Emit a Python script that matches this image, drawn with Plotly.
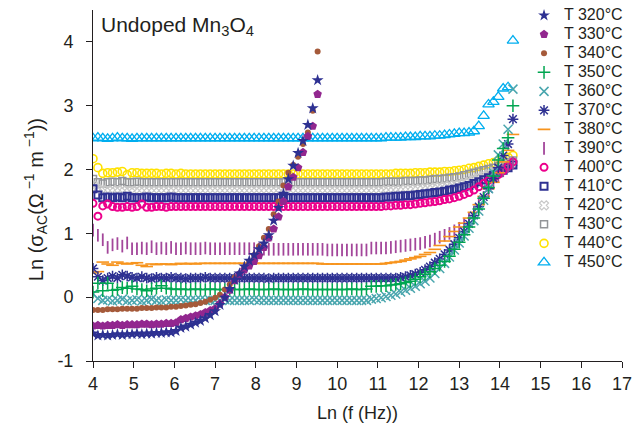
import plotly.graph_objects as go

# ln(f) sampling grid
ln_f = [4.00, 4.12, 4.24, 4.36, 4.48, 4.60, 4.72, 4.84, 4.96, 5.08,
        5.20, 5.32, 5.44, 5.56, 5.68, 5.80, 5.92, 6.04, 6.16, 6.28,
        6.40, 6.52, 6.64, 6.76, 6.88, 7.00, 7.12, 7.24, 7.36, 7.48,
        7.60, 7.72, 7.84, 7.96, 8.08, 8.20, 8.32, 8.44, 8.56, 8.68,
        8.80, 8.92, 9.04, 9.16, 9.28, 9.40, 9.52, 9.64, 9.76, 9.88,
        10.00, 10.12, 10.24, 10.36, 10.48, 10.60, 10.72, 10.84, 10.96, 11.08,
        11.20, 11.32, 11.44, 11.56, 11.68, 11.80, 11.92, 12.04, 12.16, 12.28,
        12.40, 12.52, 12.64, 12.76, 12.88, 13.00, 13.12, 13.24, 13.36, 13.48,
        13.60, 13.72, 13.84, 13.96, 14.08, 14.20, 14.32]

s320 = [-0.57, -0.60, -0.59, -0.60, -0.59, -0.58, -0.59, -0.58, -0.58, -0.57,
        -0.58, -0.57, -0.57, -0.56, -0.56, -0.55, -0.55, -0.53, -0.48, -0.46,
        -0.43, -0.40, -0.37, -0.33, -0.28, -0.22, -0.12, -0.01, 0.13, 0.27,
        0.37, 0.48, 0.57, 0.66, 0.75, 0.84, 0.97, 1.20, 1.40, 1.62,
        1.85, 2.06, 2.26, 2.45, 2.70, 2.96, 3.40]

s330 = [-0.45, -0.44, -0.45, -0.44, -0.44, -0.43, -0.44, -0.43, -0.43, -0.43,
        -0.42, -0.42, -0.43, -0.42, -0.42, -0.41, -0.41, -0.40, -0.35, -0.33,
        -0.31, -0.29, -0.27, -0.24, -0.21, -0.18, -0.10, 0.00, 0.11, 0.26,
        0.36, 0.43, 0.49, 0.56, 0.65, 0.78, 0.93, 1.07, 1.26, 1.50,
        1.73, 1.88, 2.03, 2.27, 2.52, 2.68, 3.18]

s340 = [-0.20, -0.20, -0.20, -0.19, -0.19, -0.19, -0.18, -0.18, -0.18, -0.18,
        -0.17, -0.17, -0.17, -0.16, -0.16, -0.16, -0.15, -0.15, -0.14, -0.13,
        -0.12, -0.11, -0.09, -0.07, -0.04, -0.01, 0.04, 0.12, 0.20, 0.31,
        0.37, 0.47, 0.56, 0.66, 0.80, 0.93, 1.07, 1.30, 1.50, 1.75,
        1.95, 2.07, 2.20, 2.40, 2.58, 2.92, 3.85]

s350 = [0.08, 0.22, 0.10, 0.22, 0.11, 0.12, 0.15, 0.14, 0.17, 0.13,
        0.12, 0.10, 0.13, 0.14, 0.18, 0.14, 0.13, 0.12, 0.13, 0.12,
        0.12, 0.13, 0.12, 0.12, 0.13, 0.12, 0.12, 0.12, 0.13, 0.12,
        0.12, 0.12, 0.13, 0.12, 0.12, 0.12, 0.12, 0.13, 0.12, 0.12,
        0.12, 0.12, 0.12, 0.13, 0.12, 0.12, 0.12, 0.12, 0.12, 0.12,
        0.12, 0.12, 0.12, 0.13, 0.12, 0.12, 0.13, 0.17, 0.17, 0.18,
        0.18, 0.19, 0.20, 0.21, 0.23, 0.25, 0.28, 0.32, 0.36, 0.40,
        0.45, 0.50, 0.56, 0.64, 0.75, 0.86, 0.98, 1.10, 1.24, 1.38,
        1.55, 1.72, 1.90, 2.15, 2.33, 2.50, 3.00]

s360 = [0.05, -0.02, -0.05, -0.04, -0.06, -0.05, -0.03, -0.06, -0.05, -0.04,
        -0.06, -0.05, -0.03, -0.05, -0.06, -0.04, -0.05, -0.05, -0.04, -0.05,
        -0.05, -0.05, -0.04, -0.05, -0.05, -0.05, -0.05, -0.04, -0.05, -0.05,
        -0.05, -0.05, -0.05, -0.04, -0.05, -0.05, -0.05, -0.05, -0.05, -0.05,
        -0.05, -0.05, -0.05, -0.05, -0.05, -0.05, -0.05, -0.05, -0.05, -0.05,
        -0.05, -0.05, -0.05, -0.05, -0.05, -0.05, -0.05, -0.03, -0.02, -0.01,
        0.01, 0.03, 0.05, 0.08, 0.11, 0.14, 0.17, 0.21, 0.25, 0.30,
        0.37, 0.45, 0.53, 0.63, 0.74, 0.85, 0.96, 1.08, 1.20, 1.35,
        1.52, 1.70, 1.95, 2.23, 2.40, 2.63, 3.26]

s370 = [0.45, 0.32, 0.26, 0.30, 0.33, 0.30, 0.35, 0.33, 0.31, 0.30,
        0.32, 0.30, 0.29, 0.31, 0.30, 0.30, 0.31, 0.30, 0.30, 0.29,
        0.30, 0.30, 0.30, 0.31, 0.30, 0.30, 0.30, 0.30, 0.30, 0.30,
        0.30, 0.30, 0.30, 0.30, 0.30, 0.30, 0.29, 0.30, 0.30, 0.30,
        0.30, 0.30, 0.30, 0.30, 0.30, 0.30, 0.30, 0.30, 0.30, 0.30,
        0.30, 0.30, 0.30, 0.30, 0.30, 0.30, 0.30, 0.30, 0.30, 0.30,
        0.30, 0.30, 0.30, 0.31, 0.32, 0.34, 0.36, 0.39, 0.43, 0.48,
        0.54, 0.60, 0.67, 0.74, 0.83, 0.93, 1.03, 1.15, 1.28, 1.42,
        1.57, 1.70, 1.86, 2.03, 2.22, 2.40, 2.79]

s380 = [0.38, 0.40, 0.55, 0.52, 0.50, 0.55, 0.53, 0.52, 0.53, 0.54,
        0.50, 0.48, 0.52, 0.51, 0.52, 0.52, 0.51, 0.52, 0.53, 0.52,
        0.53, 0.52, 0.53, 0.53, 0.53, 0.53, 0.53, 0.53, 0.53, 0.53,
        0.53, 0.53, 0.53, 0.53, 0.53, 0.53, 0.53, 0.53, 0.53, 0.53,
        0.53, 0.53, 0.53, 0.53, 0.53, 0.53, 0.53, 0.52, 0.52, 0.52,
        0.52, 0.52, 0.52, 0.52, 0.52, 0.52, 0.52, 0.52, 0.52, 0.52,
        0.53, 0.54, 0.55, 0.56, 0.58, 0.60, 0.62, 0.64, 0.67, 0.70,
        0.75, 0.81, 0.88, 0.95, 1.03, 1.10, 1.16, 1.24, 1.33, 1.45,
        1.58, 1.70, 1.80, 1.95, 2.12, 2.30, 2.55]

s390 = [1.05, 0.97, 0.90, 0.78, 0.82, 0.84, 0.80, 0.85, 0.76, 0.76,
        0.77, 0.76, 0.79, 0.76, 0.77, 0.76, 0.78, 0.76, 0.76, 0.77,
        0.76, 0.76, 0.76, 0.77, 0.76, 0.76, 0.76, 0.76, 0.76, 0.76,
        0.76, 0.76, 0.76, 0.76, 0.76, 0.75, 0.75, 0.75, 0.75, 0.75,
        0.75, 0.75, 0.75, 0.75, 0.75, 0.75, 0.75, 0.75, 0.74, 0.74,
        0.74, 0.74, 0.74, 0.74, 0.74, 0.74, 0.74, 0.77, 0.77, 0.77,
        0.77, 0.78, 0.79, 0.80, 0.81, 0.82, 0.83, 0.84, 0.86, 0.88,
        0.91, 0.94, 0.97, 1.00, 1.04, 1.08, 1.14, 1.22, 1.32, 1.44,
        1.56, 1.68, 1.80, 1.90, 1.98, 2.05, 2.10]

s400 = [1.47, 1.27, 1.43, 1.46, 1.42, 1.41, 1.41, 1.42, 1.41, 1.42,
        1.46, 1.41, 1.41, 1.42, 1.42, 1.41, 1.42, 1.42, 1.42, 1.42,
        1.42, 1.42, 1.42, 1.42, 1.42, 1.42, 1.42, 1.42, 1.42, 1.42,
        1.42, 1.42, 1.42, 1.42, 1.42, 1.42, 1.42, 1.42, 1.42, 1.42,
        1.42, 1.42, 1.42, 1.42, 1.42, 1.42, 1.42, 1.42, 1.42, 1.42,
        1.42, 1.42, 1.42, 1.42, 1.42, 1.42, 1.42, 1.42, 1.42, 1.42,
        1.43, 1.43, 1.44, 1.44, 1.45, 1.45, 1.46, 1.47, 1.48, 1.49,
        1.50, 1.51, 1.53, 1.54, 1.56, 1.58, 1.61, 1.64, 1.68, 1.73,
        1.78, 1.83, 1.87, 1.92, 1.98, 2.05, 2.12]

s410 = [1.70, 1.60, 1.56, 1.57, 1.56, 1.57, 1.56, 1.58, 1.56, 1.56,
        1.56, 1.57, 1.56, 1.56, 1.56, 1.56, 1.57, 1.56, 1.56, 1.56,
        1.56, 1.56, 1.56, 1.56, 1.56, 1.56, 1.56, 1.56, 1.56, 1.56,
        1.56, 1.56, 1.56, 1.56, 1.56, 1.56, 1.56, 1.56, 1.56, 1.56,
        1.56, 1.56, 1.56, 1.56, 1.56, 1.56, 1.56, 1.56, 1.56, 1.56,
        1.56, 1.56, 1.56, 1.56, 1.56, 1.56, 1.56, 1.56, 1.56, 1.56,
        1.57, 1.57, 1.58, 1.58, 1.59, 1.59, 1.60, 1.61, 1.62, 1.63,
        1.64, 1.65, 1.66, 1.68, 1.69, 1.71, 1.73, 1.75, 1.78, 1.81,
        1.84, 1.87, 1.91, 1.95, 1.99, 2.03, 2.07]

s420 = [1.75, 1.70, 1.68, 1.67, 1.67, 1.68, 1.67, 1.67, 1.66, 1.67,
        1.67, 1.67, 1.67, 1.67, 1.67, 1.67, 1.67, 1.67, 1.67, 1.67,
        1.67, 1.67, 1.67, 1.67, 1.67, 1.67, 1.67, 1.67, 1.67, 1.67,
        1.67, 1.67, 1.67, 1.67, 1.67, 1.67, 1.67, 1.67, 1.67, 1.67,
        1.67, 1.67, 1.67, 1.67, 1.67, 1.67, 1.67, 1.67, 1.67, 1.67,
        1.67, 1.67, 1.67, 1.67, 1.67, 1.67, 1.67, 1.67, 1.67, 1.67,
        1.68, 1.68, 1.68, 1.69, 1.69, 1.69, 1.70, 1.70, 1.71, 1.71,
        1.72, 1.73, 1.74, 1.75, 1.76, 1.77, 1.79, 1.81, 1.84, 1.87,
        1.90, 1.93, 1.96, 1.99, 2.03, 2.07, 2.10]

s430 = [1.85, 1.80, 1.78, 1.80, 1.81, 1.80, 1.82, 1.80, 1.80, 1.81,
        1.80, 1.80, 1.80, 1.80, 1.80, 1.80, 1.80, 1.80, 1.80, 1.80,
        1.80, 1.80, 1.80, 1.80, 1.80, 1.80, 1.80, 1.80, 1.80, 1.80,
        1.80, 1.80, 1.80, 1.80, 1.80, 1.80, 1.80, 1.80, 1.80, 1.80,
        1.80, 1.80, 1.80, 1.80, 1.80, 1.80, 1.80, 1.80, 1.80, 1.80,
        1.80, 1.80, 1.80, 1.80, 1.80, 1.80, 1.80, 1.80, 1.80, 1.80,
        1.81, 1.81, 1.81, 1.81, 1.82, 1.82, 1.82, 1.83, 1.83, 1.84,
        1.85, 1.85, 1.86, 1.87, 1.88, 1.89, 1.91, 1.93, 1.95, 1.97,
        1.99, 2.01, 2.03, 2.06, 2.08, 2.11, 2.14]

s440 = [2.17, 2.03, 1.94, 1.95, 1.95, 1.96, 1.97, 1.92, 1.95, 1.95,
        1.94, 1.94, 1.94, 1.94, 1.93, 1.94, 1.94, 1.93, 1.94, 1.93,
        1.93, 1.93, 1.93, 1.93, 1.93, 1.93, 1.93, 1.93, 1.93, 1.93,
        1.93, 1.93, 1.93, 1.93, 1.93, 1.93, 1.93, 1.93, 1.93, 1.93,
        1.93, 1.93, 1.93, 1.93, 1.93, 1.93, 1.93, 1.93, 1.93, 1.93,
        1.93, 1.93, 1.93, 1.93, 1.93, 1.93, 1.93, 1.93, 1.93, 1.93,
        1.93, 1.93, 1.94, 1.94, 1.94, 1.94, 1.95, 1.95, 1.95, 1.96,
        1.96, 1.96, 1.97, 1.97, 1.98, 1.99, 2.00, 2.02, 2.03, 2.05,
        2.07, 2.09, 2.11, 2.14, 2.16, 2.19, 2.22]

s450 = [2.49, 2.50, 2.49, 2.48, 2.49, 2.50, 2.49, 2.49, 2.48, 2.49,
        2.49, 2.49, 2.49, 2.49, 2.49, 2.49, 2.49, 2.49, 2.49, 2.49,
        2.49, 2.49, 2.49, 2.49, 2.49, 2.49, 2.49, 2.49, 2.49, 2.49,
        2.49, 2.49, 2.49, 2.49, 2.49, 2.49, 2.49, 2.49, 2.49, 2.49,
        2.49, 2.49, 2.49, 2.49, 2.49, 2.49, 2.49, 2.49, 2.49, 2.49,
        2.49, 2.49, 2.49, 2.49, 2.49, 2.49, 2.49, 2.49, 2.49, 2.49,
        2.50, 2.50, 2.50, 2.50, 2.51, 2.51, 2.51, 2.52, 2.52, 2.52,
        2.53, 2.53, 2.54, 2.55, 2.56, 2.57, 2.57, 2.58, 2.60, 2.68,
        2.84, 3.02, 3.06, 3.14, 3.27, 3.29, 4.02]

labels = ["T 320°C", "T 330°C", "T 340°C", "T 350°C", "T 360°C", "T 370°C", "T 380°C",
          "T 390°C", "T 400°C", "T 410°C", "T 420°C", "T 430°C", "T 440°C", "T 450°C"]
series = [s320, s330, s340, s350, s360, s370, s380,
          s390, s400, s410, s420, s430, s440, s450]

styles = [
    dict(symbol="star", color="#2E3192", size=9, lw=0),
    dict(symbol="pentagon", color="#92278F", size=9, lw=0),
    dict(symbol="circle", color="#A55A3A", size=6, lw=0),
    dict(symbol="cross-thin-open", color="#00A651", size=9, lw=1.5),
    dict(symbol="x-thin-open", color="#4AA6AE", size=9, lw=1.5),
    dict(symbol="asterisk-open", color="#2E3192", size=9, lw=1.5),
    dict(symbol="line-ew-open", color="#F7941D", size=9, lw=1.6),
    dict(symbol="line-ns-open", color="#A3469A", size=9, lw=1.8),
    dict(symbol="circle-open", color="#EC008C", size=7, lw=2),
    dict(symbol="square-open", color="#2E3192", size=7, lw=2),
    dict(symbol="x-open", color="#C8C8C8", size=8, lw=1.2),
    dict(symbol="square-open", color="#939598", size=7, lw=1.5),
    dict(symbol="circle-open", color="#FFE200", size=8, lw=1.6),
    dict(symbol="triangle-up-open", color="#00AEEF", size=10, lw=1.3),
]

fig = go.Figure()
# draw highest temperature first so the low-temperature rising curves sit on top
for i in reversed(range(len(series))):
    st = styles[i]
    ys = series[i]
    fig.add_trace(go.Scatter(
        x=ln_f[:len(ys)], y=ys, mode="markers",
        name='<span style="font-size:16px">' + labels[i] + "</span>",
        legendrank=i + 1,
        marker=dict(symbol=st["symbol"], size=st["size"], color=st["color"],
                    line=dict(color=st["color"], width=st["lw"])),
    ))

axis_col = "#231F20"
fig.update_layout(
    width=632, height=431,
    margin=dict(l=93, r=10, t=10, b=70, autoexpand=False),
    paper_bgcolor="white", plot_bgcolor="white",
    font=dict(family="Liberation Sans, Arial, sans-serif", color=axis_col, size=18),
    showlegend=True,
    legend=dict(x=0.8148, xanchor="left", y=1.026, yanchor="top", maxheight=420,
                bgcolor="rgba(0,0,0,0)", font=dict(size=11, color=axis_col),
                traceorder="normal", itemsizing="trace"),
    xaxis=dict(range=[4, 17], tickmode="linear", tick0=4, dtick=1,
               showgrid=False, zeroline=False, showline=True, linecolor=axis_col,
               linewidth=1, ticks="outside", ticklen=6, tickcolor=axis_col,
               tickfont=dict(size=18), automargin=False, ticklabeloverflow="allow",
               title=dict(text="Ln (f (Hz))", font=dict(size=18), standoff=13)),
    yaxis=dict(range=[-1, 4.5], tickmode="array", tickvals=[-1, 0, 1, 2, 3, 4],
               ticktext=["-1", "0", "1", "2", "3", "4"],
               showgrid=False, zeroline=False, showline=True, linecolor=axis_col,
               linewidth=1, ticks="outside", ticklen=6, tickcolor=axis_col,
               tickfont=dict(size=18), ticklabelstandoff=9, automargin=False,
               ticklabeloverflow="allow"),
    annotations=[
        dict(text="Undoped Mn<sub>3</sub>O<sub>4</sub>", xref="paper", yref="paper",
             x=0.012, y=0.955, xanchor="left", yanchor="middle",
             showarrow=False, font=dict(size=21, color=axis_col)),
        dict(text="Ln (σ<sub>AC</sub>(Ω<sup> −1</sup> m<sup> −1</sup>))",
             xref="paper", yref="paper", x=-0.1073, y=0.459, xanchor="center", yanchor="middle",
             textangle=-90, showarrow=False, font=dict(size=20, color=axis_col)),
    ],
)

fig.write_html("out.html")
